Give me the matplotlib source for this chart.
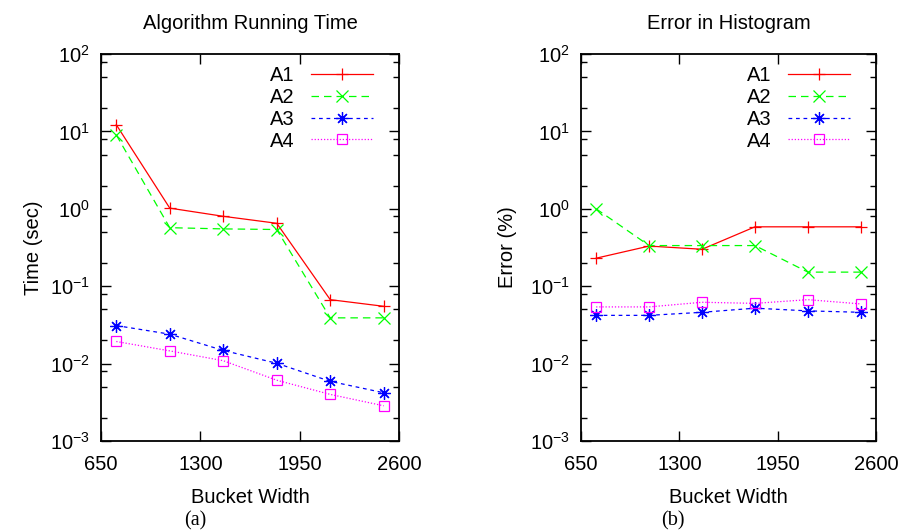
import numpy as np
import matplotlib
matplotlib.use('Agg')
import matplotlib.pyplot as plt
from matplotlib.ticker import LogLocator, FixedLocator, NullFormatter

plt.rcParams['font.family'] = ['Liberation Sans', 'DejaVu Sans']
plt.rcParams['mathtext.fontset'] = 'custom'
plt.rcParams['mathtext.rm'] = 'Liberation Sans'
plt.rcParams['mathtext.it'] = 'Liberation Sans:italic'
plt.rcParams['mathtext.bf'] = 'Liberation Sans:bold'

# ---- data ----
bucket_width = [750, 1100, 1450, 1800, 2150, 2500]
series_names = ['A1', 'A2', 'A3', 'A4']

time_a1 = [12.2, 1.02, 0.80, 0.65, 0.067, 0.055]
time_a2 = [9.0, 0.57, 0.55, 0.54, 0.039, 0.039]
time_a3 = [0.031, 0.024, 0.0148, 0.0101, 0.0059, 0.0042]
time_a4 = [0.0193, 0.0146, 0.0109, 0.0061, 0.0040, 0.00285]

err_a1 = [0.23, 0.33, 0.30, 0.585, 0.585, 0.585]
err_a2 = [1.0, 0.335, 0.335, 0.335, 0.152, 0.152]
err_a3 = [0.042, 0.042, 0.046, 0.052, 0.048, 0.046]
err_a4 = [0.054, 0.054, 0.062, 0.060, 0.067, 0.059]

x_ticks = [650, 1300, 1950, 2600]

# styles (gnuplot-like)
colors = ['#ff0000', '#00ff00', '#0000ff', '#ff00ff']
linestyles = ['-', (0, (6, 4)), (0, (3, 3)), (0, (1, 1.5))]
markers = ['+', 'x', (8, 2, 0), 's']
msizes = [9, 8, 9, 7]

fig = plt.figure(figsize=(9.08, 5.31), dpi=100)
ax_a = fig.add_axes([101 / 908, 1 - 441 / 531, 298 / 908, 387 / 531])
ax_b = fig.add_axes([581 / 908, 1 - 441 / 531, 295 / 908, 387 / 531])

FS = 14.5


def draw_panel(ax, ys, title, ylabel, tag, ylpad, wpx):
    for i, y in enumerate(ys):
        ax.plot(bucket_width, y, color=colors[i], linestyle=linestyles[i],
                linewidth=0.9, marker=markers[i], markersize=msizes[i],
                markerfacecolor='none', markeredgecolor=colors[i],
                markeredgewidth=0.9, label=series_names[i])
    ax.set_yscale('log')
    ax.set_ylim(1e-3, 1e2)
    ax.set_xlim(650, 2600)
    ax.xaxis.set_major_locator(FixedLocator(x_ticks))
    ax.yaxis.set_major_locator(LogLocator(base=10, numticks=10))
    ax.yaxis.set_minor_locator(LogLocator(base=10, subs=[2, 5, 8], numticks=10))
    ax.yaxis.set_minor_formatter(NullFormatter())
    ax.tick_params(which='both', direction='in', top=True, right=True,
                   labelsize=FS, width=1.0, colors='black')
    ax.tick_params(which='major', length=7, pad=8)
    ax.tick_params(axis='x', which='major', pad=10)
    ax.tick_params(which='minor', length=4)
    for sp in ax.spines.values():
        sp.set_linewidth(1.3)
    ax.set_title(title, fontsize=FS, pad=18)
    ax.set_ylabel(ylabel, fontsize=FS, labelpad=ylpad)
    ax.set_xlabel(tag, fontsize=FS, labelpad=10)
    ax.legend(loc='upper right', frameon=False, markerfirst=False,
              fontsize=FS, handlelength=3.1, handletextpad=0.8,
              labelspacing=0.14, borderaxespad=0.0, numpoints=1,
              bbox_to_anchor=(1 - 18 / wpx, 1 - 4 / 387))


draw_panel(ax_a, [time_a1, time_a2, time_a3, time_a4],
           'Algorithm Running Time', 'Time (sec)', 'Bucket Width', 5, 298)
draw_panel(ax_b, [err_a1, err_a2, err_a3, err_a4],
           'Error in Histogram', 'Error (%)', 'Bucket Width', 9, 295)

fig.text(195 / 908, 1 - 521 / 531, '(a)', family='Liberation Serif',
         fontsize=FS, ha='center', va='center')
fig.text(673 / 908, 1 - 521 / 531, '(b)', family='Liberation Serif',
         fontsize=FS, ha='center', va='center')

fig.savefig('out.png', dpi=100)
